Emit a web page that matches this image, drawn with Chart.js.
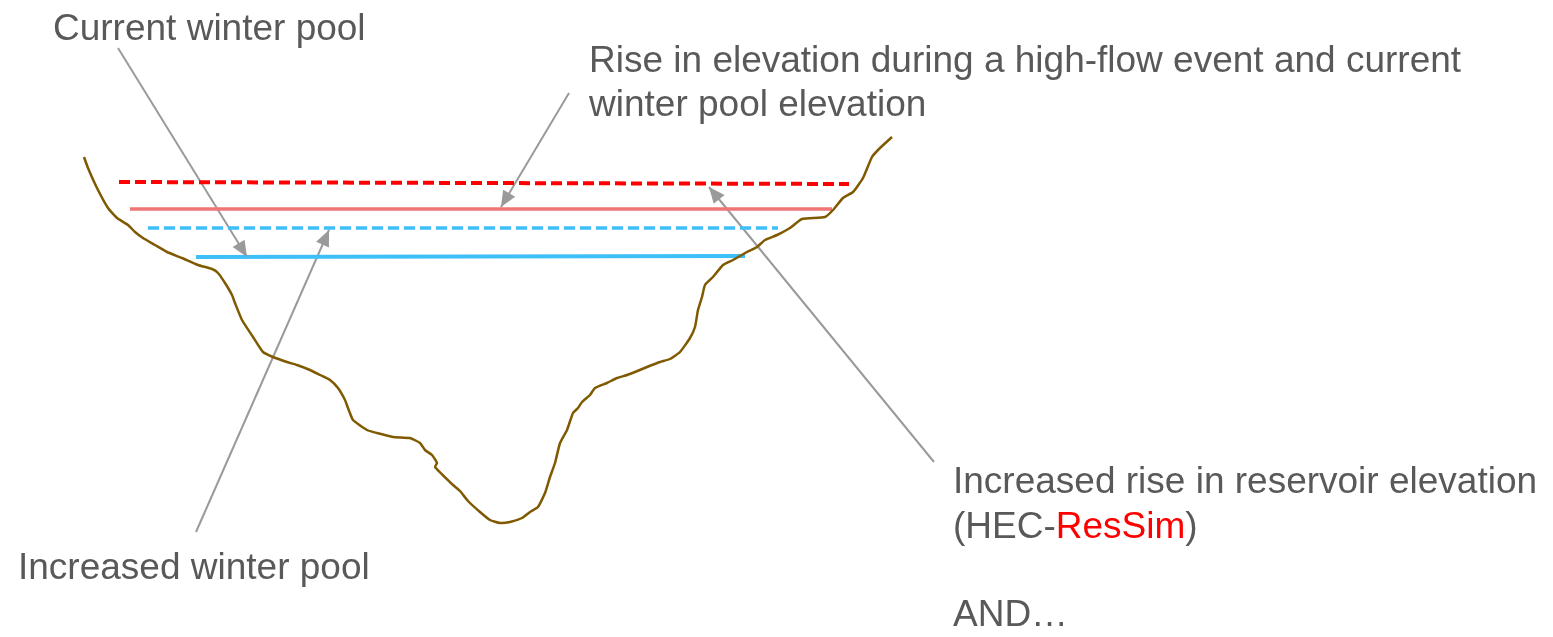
<!DOCTYPE html>
<html>
<head>
<meta charset="utf-8">
<title>Winter pool diagram</title>
<script src="https://cdn.jsdelivr.net/npm/chart.js@4.4.1/dist/chart.umd.min.js"></script>
<style>
    html, body { margin: 0; padding: 0; background: #fff; }
    #wrap { position: relative; width: 1553px; height: 637px; overflow: hidden; }
    #diagram { position: absolute; left: 0; top: 0; }
    .note {
        position: absolute;
        font-family: "Liberation Sans", Arial, sans-serif;
        font-size: 37px;
        line-height: 37px;
        color: #595959;
        white-space: nowrap;
    }
    .red { color: #ff0000; }
</style>
</head>
<body>
<div id="wrap">
    <canvas id="diagram" width="1553" height="637"></canvas>
    <div class="note" style="left:53px; top:9px;">Current winter pool</div>
    <div class="note" style="left:589px; top:41px;">Rise in elevation during a high-flow event and current</div>
    <div class="note" style="left:589px; top:85px;">winter pool elevation</div>
    <div class="note" style="left:18px; top:548px;">Increased winter pool</div>
    <div class="note" style="left:953px; top:462px;">Increased rise in reservoir elevation</div>
    <div class="note" style="left:953px; top:507px;">(HEC-<span class="red">ResSim</span>)</div>
    <div class="note" style="left:953px; top:595px;">AND…</div>
</div>
<script>
// Reservoir cross-section (ground profile)
const profileX = [84, 88, 97, 108, 117, 128, 135, 143, 155, 167, 182, 198, 212, 218, 225, 232, 235, 242, 253,
    263, 273, 287, 297, 310, 320, 330, 338, 345, 348, 353, 367, 377, 393, 410, 420, 425, 432, 437, 435, 453,
    460, 468, 480, 490, 500, 510, 522, 530, 538, 545, 550, 555, 560, 567, 573, 578, 582, 590, 595, 607, 617,
    627, 635, 647, 660, 670, 680, 690, 695, 698, 702, 705, 713, 723, 733, 747, 757, 765, 777, 790, 802, 825,
    833, 843, 853, 863, 872, 880, 892];
const profileY = [157, 168, 188, 208, 218, 225, 232, 238, 245, 252, 258, 265, 269, 273, 283, 295, 303, 320, 337,
    352, 357, 362, 365, 370, 375, 380, 388, 400, 408, 420, 430, 433, 437, 438, 443, 450, 455, 463, 467, 485,
    491, 501, 512, 520, 523, 522, 518, 512, 507, 493, 477, 463, 443, 430, 413, 408, 402, 395, 388, 383, 378,
    375, 372, 367, 362, 359, 352, 338, 327, 310, 297, 285, 277, 265, 260, 252, 247, 240, 235, 228, 219, 217,
    210, 198, 192, 178, 157, 148, 137];

// Water levels
const levelNames = ['High-flow, increased', 'High-flow, current', 'Increased winter pool', 'Current winter pool'];
const levelX0 = [119, 130, 148, 196];
const levelX1 = [849, 832, 778, 745];
const levelY0 = [182, 209, 228, 257];
const levelY1 = [184, 209, 228, 256];
const levelColors = ['#ff0000', '#f07575', '#3dbff8', '#3dbff8'];
const levelDash = [[11, 5], [], [11, 5], []];
const levelWidth = [4, 3.5, 3.5, 4];

// Callout arrows: from label to tip
const arrowX0 = [118, 196, 569, 934];
const arrowY0 = [48, 532, 93, 462];
const arrowX1 = [247, 329, 501, 709];
const arrowY1 = [257, 230, 207, 187];

const arrowColor = '#9a9a9a';

function toPoints(xs, ys) {
    return xs.map((x, i) => ({ x: x, y: ys[i] }));
}

// Build datasets
const datasets = [];

datasets.push({
    label: 'Ground profile',
    data: toPoints(profileX, profileY),
    borderColor: '#7f5a00',
    borderWidth: 2.5,
    pointRadius: 0,
    showLine: true,
    tension: 0.15
});

levelNames.forEach((name, i) => {
    datasets.push({
        label: name,
        data: [{ x: levelX0[i], y: levelY0[i] }, { x: levelX1[i], y: levelY1[i] }],
        borderColor: levelColors[i],
        borderWidth: levelWidth[i],
        borderDash: levelDash[i],
        borderCapStyle: 'butt',
        pointRadius: 0,
        showLine: true
    });
});

arrowX0.forEach((x, i) => {
    datasets.push({
        label: 'arrow' + i,
        data: [{ x: x, y: arrowY0[i] }, { x: arrowX1[i], y: arrowY1[i] }],
        borderColor: arrowColor,
        borderWidth: 2,
        pointRadius: 0,
        showLine: true
    });
});

// Arrow heads drawn at the tip of each callout
const arrowHeads = {
    id: 'arrowHeads',
    afterDatasetsDraw(chart) {
        const ctx = chart.ctx;
        const sx = chart.scales.x;
        const sy = chart.scales.y;
        ctx.save();
        ctx.fillStyle = arrowColor;
        for (let i = 0; i < arrowX0.length; i++) {
            const x0 = sx.getPixelForValue(arrowX0[i]);
            const y0 = sy.getPixelForValue(arrowY0[i]);
            const x1 = sx.getPixelForValue(arrowX1[i]);
            const y1 = sy.getPixelForValue(arrowY1[i]);
            const ang = Math.atan2(y1 - y0, x1 - x0);
            const len = 16, half = 7;
            const bx = x1 - len * Math.cos(ang);
            const by = y1 - len * Math.sin(ang);
            ctx.beginPath();
            ctx.moveTo(x1, y1);
            ctx.lineTo(bx + half * Math.sin(ang), by - half * Math.cos(ang));
            ctx.lineTo(bx - half * Math.sin(ang), by + half * Math.cos(ang));
            ctx.closePath();
            ctx.fill();
        }
        ctx.restore();
    }
};

new Chart(document.getElementById('diagram'), {
    type: 'scatter',
    data: { datasets: datasets },
    options: {
        responsive: false,
        animation: false,
        devicePixelRatio: 1,
        layout: { padding: 0 },
        scales: {
            x: { type: 'linear', min: 0, max: 1553, display: false },
            y: { type: 'linear', min: 0, max: 637, reverse: true, display: false }
        },
        plugins: {
            legend: { display: false },
            tooltip: { enabled: false }
        }
    },
    plugins: [arrowHeads]
});
</script>
</body>
</html>
